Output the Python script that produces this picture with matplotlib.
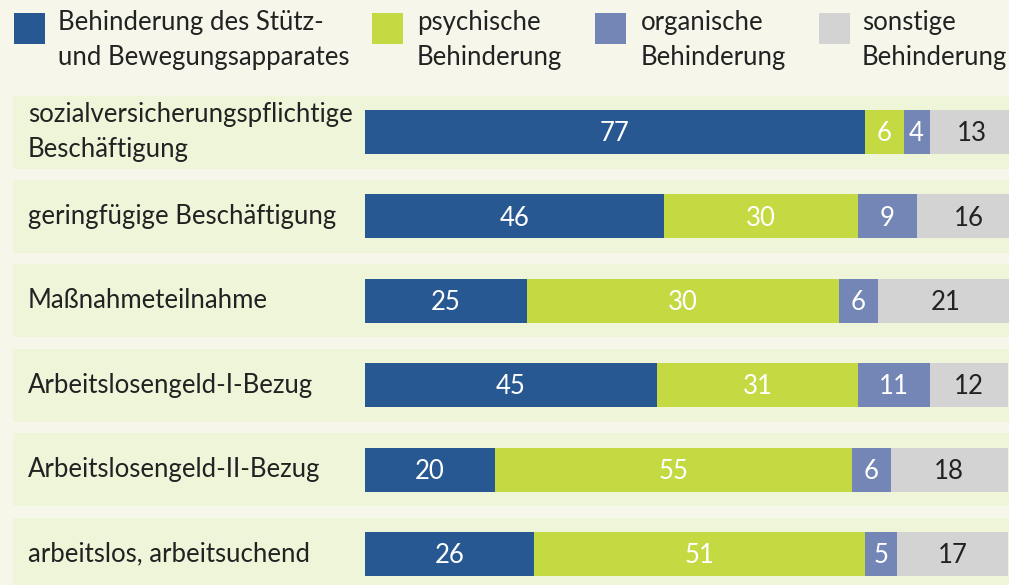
import matplotlib
matplotlib.use("Agg")
import matplotlib.pyplot as plt
from matplotlib.patches import Rectangle

categories = [
    "sozialversicherungspflichtige\nBeschäftigung",
    "geringfügige Beschäftigung",
    "Maßnahmeteilnahme",
    "Arbeitslosengeld-I-Bezug",
    "Arbeitslosengeld-II-Bezug",
    "arbeitslos, arbeitsuchend",
]
series_names = [
    "Behinderung des Stütz-\nund Bewegungsapparates",
    "psychische\nBehinderung",
    "organische\nBehinderung",
    "sonstige\nBehinderung",
]
# bar lengths as drawn in the picture
stuetz = [77, 46, 25, 45, 20, 26]
psychisch = [6, 30, 48, 31, 55, 51]
organisch = [4, 9, 6, 11, 6, 5]
sonstige = [13, 16, 21, 12, 18, 17]
# value labels as printed in the picture
stuetz_lbl = ["77", "46", "25", "45", "20", "26"]
psychisch_lbl = ["6", "30", "30", "31", "55", "51"]
organisch_lbl = ["4", "9", "6", "11", "6", "5"]
sonstige_lbl = ["13", "16", "21", "12", "18", "17"]

colors = ["#285891", "#c5d942", "#7386b5", "#d3d3d3"]
text_colors = ["white", "white", "white", "#222222"]
BG = "#f6f7ea"
BAND = "#eff5d9"
FONT = "Lato"
FS = 18.5

W, H = 1009, 585
fig = plt.figure(figsize=(W / 100, H / 100), dpi=100, facecolor=BG)
ax = fig.add_axes([0, 0, 1, 1])
ax.set_facecolor(BG)

px_per_unit = 6.49
x0_px = 365
pitch = 84.4
y0_px = 132
ax.set_xlim(-x0_px / px_per_unit, (W - x0_px) / px_per_unit)
ax.set_ylim((H - y0_px) / pitch, -y0_px / pitch)
ax.axis("off")

band_left = (13 - x0_px) / px_per_unit
band_h = 73 / pitch
for i in range(len(categories)):
    ax.add_patch(Rectangle((band_left, i - band_h / 2), 200, band_h,
                           facecolor=BAND, edgecolor="none", zorder=0))

series = [stuetz, psychisch, organisch, sonstige]
labels = [stuetz_lbl, psychisch_lbl, organisch_lbl, sonstige_lbl]
ypos = list(range(len(categories)))
left = [0] * len(categories)
for vals, lbls, c, tc in zip(series, labels, colors, text_colors):
    ax.barh(ypos, vals, left=left, height=44 / pitch, color=c, edgecolor="none", zorder=2)
    for i, (v, t) in enumerate(zip(vals, lbls)):
        ax.text(left[i] + v / 2, i + 0.02, t, ha="center", va="center",
                color=tc, fontsize=FS, family=FONT, zorder=3)
    left = [l + v for l, v in zip(left, vals)]

label_x = (28 - x0_px) / px_per_unit
for i, cat in enumerate(categories):
    ax.text(label_x, i + 0.0, cat, ha="left", va="center", color="#222222",
            fontsize=FS, family=FONT, linespacing=1.5, zorder=3)

# legend
sq_x = [14, 372, 595, 819]
txt_x = [58, 417, 641, 862]
for sx, tx, c, name in zip(sq_x, txt_x, colors, series_names):
    fig.patches.append(Rectangle((sx / W, 1 - 44 / H), 31 / W, 31 / H,
                                 transform=fig.transFigure, facecolor=c, edgecolor="none"))
    fig.text(tx / W, 1 - 40 / H, name, ha="left", va="center", color="#222222",
             fontsize=FS, family=FONT, linespacing=1.5)

fig.savefig("out.png", dpi=100, facecolor=BG)
